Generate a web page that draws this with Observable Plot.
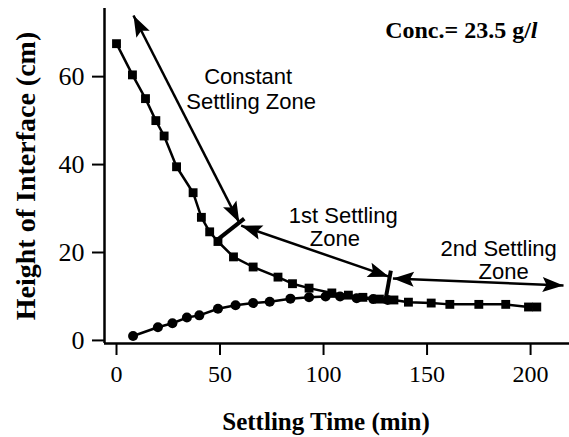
<!DOCTYPE html>
<html><head><meta charset="utf-8">
<script src="https://cdn.jsdelivr.net/npm/d3@7"></script>
<script src="https://cdn.jsdelivr.net/npm/@observablehq/plot@0.6"></script>
<style>body{margin:0;background:#fff}#chart svg{display:block}</style>
</head><body><div id="chart"></div>
<script>
// Square series (height of interface)
const squareTime = [0, 7.7, 14, 19, 23, 29, 37, 41, 45, 49, 56.5, 66, 78, 85, 93, 104, 112, 119, 127, 134, 141, 152, 161, 175, 188, 199, 203];
const squareHeight = [67.5, 60.4, 55, 50, 46.5, 39.5, 33.6, 28, 24.7, 22.5, 19, 16.7, 14.4, 12.9, 11.9, 10.8, 10.3, 9.8, 9.4, 9.2, 8.7, 8.5, 8.2, 8.2, 8.2, 7.6, 7.6];
// Circle series
const circleTime = [8, 20, 27, 34, 40, 49, 57.5, 66, 74, 84, 93, 101, 108, 116, 124, 131];
const circleHeight = [1, 3, 3.9, 5.2, 5.7, 7.2, 8, 8.5, 8.8, 9.5, 9.8, 10, 10, 9.6, 9.4, 9.2];
const xTicks = [0, 50, 100, 150, 200];
const yTicks = [0, 20, 40, 60];
// Zone annotations
const zoneLabels = ["Constant", "Settling Zone", "1st Settling", "Zone", "2nd Settling", "Zone"];
const zoneLabelX = [63.6, 65, 109.5, 105.5, 184.6, 187];
const zoneLabelY = [60, 54.3, 28.2, 23, 20.7, 15.5];
// Double-headed arrows (start, end)
const arrowX1 = [8.2, 60.2, 133.5];
const arrowY1 = [73.9, 26.1, 14.1];
const arrowX2 = [59.3, 131.6, 215.9];
const arrowY2 = [26.8, 14.5, 12.5];
// Zone boundary bars
const barX1 = [48.2, 129.6];
const barY1 = [22.7, 8.4];
const barX2 = [61.7, 132.5];
const barY2 = [27.7, 15.9];
const concLabel = "Conc.= 23.5 g/l";
const xLabel = "Settling Time (min)";
const yLabel = "Height of Interface (cm)";

const W = 569, H = 437;
const mL = 104, mR = 0, mT = 8, mB = 94;
const xDomain = [-5.8, 218.8];
const yDomain = [-0.7, 75.5];

const squares = squareTime.map((t, i) => ({t, h: squareHeight[i]}));
const circles = circleTime.map((t, i) => ({t, h: circleHeight[i]}));
const labels = zoneLabels.map((s, i) => ({s, x: zoneLabelX[i], y: zoneLabelY[i]}));
const arrows = arrowX1.map((x1, i) => ({x1, y1: arrowY1[i], x2: arrowX2[i], y2: arrowY2[i]}));
const bars = barX1.map((x1, i) => ({x1, y1: barY1[i], x2: barX2[i], y2: barY2[i]}));

const px = d3.scaleLinear(xDomain, [mL, W - mR]);
const py = d3.scaleLinear(yDomain, [H - mB, mT]);
const heads = [];
for (const a of arrows) {
  const dx = px(a.x2) - px(a.x1), dy = py(a.y2) - py(a.y1);
  const ang = Math.atan2(dx, -dy) * 180 / Math.PI;
  heads.push({x: a.x2, y: a.y2, r: ang});
  heads.push({x: a.x1, y: a.y1, r: ang + 180});
}
const arrowHead = {
  draw(ctx) {
    ctx.moveTo(0, 0);
    ctx.lineTo(7.5, 21);
    ctx.lineTo(0, 17);
    ctx.lineTo(-7.5, 21);
    ctx.closePath();
  }
};

const serif = "Liberation Serif, Times New Roman, serif";
const sans = "Liberation Sans, Arial, sans-serif";

const chart = Plot.plot({
  width: W, height: H,
  marginLeft: mL, marginRight: mR, marginTop: mT, marginBottom: mB,
  x: {domain: xDomain},
  y: {domain: yDomain},
  style: {background: "#fff", color: "#000"},
  marks: [
    Plot.axisX({ticks: xTicks, tickSize: 12, tickPadding: 9, fontSize: 24, fontFamily: serif, strokeWidth: 2, label: null}),
    Plot.axisY({ticks: yTicks, tickSize: 12, tickPadding: 8, fontSize: 26, fontFamily: serif, strokeWidth: 2, label: null}),
    Plot.ruleX([xDomain[0]], {stroke: "#000", strokeWidth: 2.5}),
    Plot.ruleY([yDomain[0]], {stroke: "#000", strokeWidth: 2.5}),
    Plot.line(squares, {x: "t", y: "h", stroke: "#000", strokeWidth: 2.5}),
    Plot.dot(squares, {x: "t", y: "h", symbol: "square", r: 5, fill: "#000", stroke: null}),
    Plot.line(circles, {x: "t", y: "h", stroke: "#000", strokeWidth: 2.5}),
    Plot.dot(circles, {x: "t", y: "h", symbol: "circle", r: 5, fill: "#000", stroke: null}),
    Plot.link(arrows, {x1: "x1", y1: "y1", x2: "x2", y2: "y2", stroke: "#000", strokeWidth: 2.5}),
    Plot.dot(heads, {x: "x", y: "y", rotate: "r", symbol: arrowHead, fill: "#000", stroke: null}),
    Plot.link(bars, {x1: "x1", y1: "y1", x2: "x2", y2: "y2", stroke: "#000", strokeWidth: 4}),
    Plot.text(labels, {x: "x", y: "y", text: "s", fontSize: 22, fontFamily: sans, fill: "#000"}),
    Plot.text([xLabel], {frameAnchor: "bottom", textAnchor: "middle", dx: -11, dy: 86, fontSize: 25, fontWeight: "bold", fontFamily: serif, fill: "#000"}),
    Plot.text([yLabel], {frameAnchor: "left", textAnchor: "middle", rotate: -90, dx: -78, fontSize: 28, fontWeight: "bold", fontFamily: serif, fill: "#000"}),
    Plot.text([concLabel], {frameAnchor: "top-right", textAnchor: "end", dx: -32, dy: 12, fontSize: 24, fontWeight: "bold", fontFamily: serif, fill: "#000"})
  ]
});
document.getElementById("chart").append(chart);
// italic "l" in the concentration label
d3.select(chart).selectAll("text").each(function() {
  if (this.textContent === concLabel) {
    const t = d3.select(this);
    t.text(null);
    t.append("tspan").text("Conc.= 23.5 g/");
    t.append("tspan").attr("font-style", "italic").text("l");
  }
});
</script></body></html>
